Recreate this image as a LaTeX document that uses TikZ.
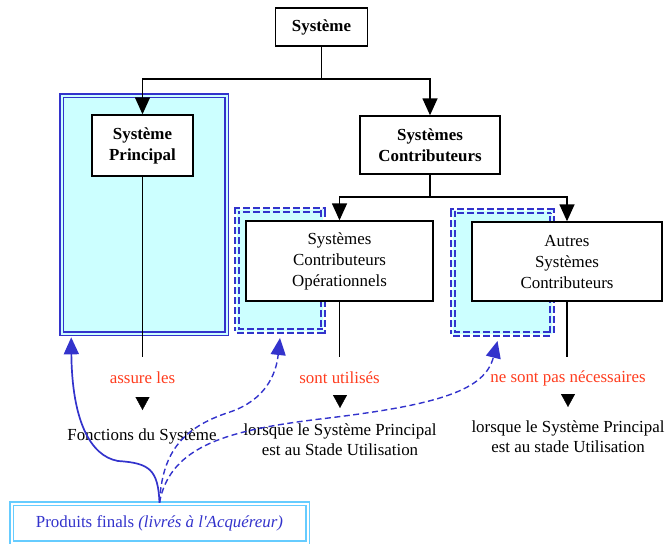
\documentclass[tikz,border=0pt]{standalone}
\usepackage{fontspec}
\setmainfont{Liberation Serif}
\newfontfamily\rawserif{Liberation Serif}
\usetikzlibrary{arrows.meta,calc}
\definecolor{lineblue}{HTML}{3333CC}
\definecolor{paleblue}{HTML}{CCFFFF}
\definecolor{skyblue}{HTML}{66CCFF}
\definecolor{labelred}{HTML}{FF3C1E}

\begin{document}
\begin{tikzpicture}[x=1pt,y=-1pt,
  font=\fontsize{16.9}{21}\selectfont,
  box/.style={draw=black, line width=1.4pt, fill=white, align=center, inner sep=0pt},
  wire/.style={draw=black, line width=1.5pt},
  bigtip/.style={-{Triangle[length=17pt,width=15pt]}},
  smalltip/.style={-{Triangle[length=13pt,width=14pt]}},
  bluetip/.style={-{Triangle[length=17pt,width=15pt]}},
  mainframe/.style={draw=lineblue, line width=1.6pt, double=paleblue, double distance=2pt,
    fill=paleblue, inner sep=0pt},
  dashframe/.style={draw=lineblue, line width=2pt, double=paleblue, double distance=1.2pt,
    dash pattern=on 7pt off 3pt, fill=paleblue, inner sep=0pt},
  redlabel/.style={text=labelred, inner sep=1pt},
  note/.style={align=center, inner sep=1pt, font=\fontsize{16.9}{20}\selectfont},
  blueline/.style={draw=lineblue, line width=1.7pt},
  bluedash/.style={draw=lineblue, line width=1.4pt, dash pattern=on 6pt off 3.5pt},
]
\useasboundingbox (0,0) rectangle (670,544);
\clip (0,0) rectangle (670,544);

% shaded frames behind the boxes
\node[mainframe, minimum width=165pt, minimum height=238pt] (spframe) at (144,214.5) {};
\node[dashframe, minimum width=86pt, minimum height=121pt] (scoframe) at (280,270.5) {};
\node[dashframe, minimum width=99pt, minimum height=123pt] (ascframe) at (502.5,272.5) {};

% boxes
\node[box, minimum width=92pt, minimum height=38pt, font=\fontsize{16.9}{21}\selectfont\bfseries] (sys) at (321.5,27) {Système};
\node[box, minimum width=101pt, minimum height=61pt, font=\fontsize{16.9}{21}\selectfont\bfseries] (sp) at (142.5,145.5) {Système\\Principal};
\node[box, minimum width=140pt, minimum height=58pt, font=\fontsize{16.9}{21}\selectfont\bfseries] (sc) at (430,145) {Systèmes\\Contributeurs};
\node[box, minimum width=187pt, minimum height=80pt] (sco) at (339.5,261) {Systèmes\\Contributeurs\\Opérationnels};
\node[box, minimum width=190pt, minimum height=79pt] (asc) at (567,261.5) {Autres\\Systèmes\\Contributeurs};

% tree connectors
\coordinate (j1) at (321.5,79);
\coordinate (j2) at (430,197);
\draw[wire] (sys.south) -- (j1);
\draw[wire,bigtip] (j1) -| (sp.north);
\draw[wire,bigtip] (j1) -| (sc.north);
\draw[wire] (sc.south) -- (j2);
\draw[wire,bigtip] (j2) -| (sco.north);
\draw[wire,bigtip] (j2) -| (asc.north);

% stems below the boxes
\coordinate (e1) at (142.5,357);
\coordinate (e2) at (339.5,357);
\coordinate (e3) at (567,357);
\draw[wire] (sp.south) -- (e1);
\draw[wire] (sco.south) -- (e2);
\draw[wire] (asc.south) -- (e3);

% labels and notes
\node[redlabel] (l1) at (142.5,378) {assure les};
\node[redlabel] (l2) at (339.5,378) {sont utilisés};
\node[redlabel] (l3) at (568,378) {ne sont pas nécessaires};

\coordinate (h1a) at (142.5,397);
\coordinate (h1b) at (142.5,410);
\coordinate (h2a) at (340,395);
\coordinate (h2b) at (340,408);
\coordinate (h3a) at (568,394);
\coordinate (h3b) at (568,407);
\draw[smalltip] (h1a) -- (h1b);
\draw[smalltip] (h2a) -- (h2b);
\draw[smalltip] (h3a) -- (h3b);

\node[note] (n1) at (142,436) {Fonctions du Système};
\node[note] (n2) at (340,440) {lorsque le Système Principal\\est au Stade Utilisation};
\node[note] (n3) at (568,436.5) {lorsque le Système Principal\\est au stade Utilisation};

% end products
\node[draw=skyblue, line width=1.6pt, double=white, double distance=2pt, fill=white,
  minimum width=296pt, minimum height=39.5pt, inner sep=0pt, text=lineblue] (pf) at (159.5,523.25)
  {Produits finals \textit{(livrés à l{\rawserif\itshape '}Acquéreur)}};

\coordinate (tA) at ($(spframe.south west)+(10.5,3)$);
\coordinate (tB) at ($(scoframe.south)+(0,6)$);
\coordinate (tC) at ($(ascframe.south)+(-5,6)$);
\draw[blueline,bluetip] (pf.north) .. controls (158,470) and (150,463) .. (118,461)
  .. controls (90,456) and (72,420) .. (tA);
\draw[bluedash,bluetip] (pf.north) .. controls (162,455) and (180,428) .. (230,412)
  .. controls (265,400) and (276,375) .. (tB);
\draw[bluedash,bluetip] (pf.north) .. controls (170,445) and (230,430) .. (320,419)
  .. controls (440,405) and (485,390) .. (tC);
\end{tikzpicture}
\end{document}
